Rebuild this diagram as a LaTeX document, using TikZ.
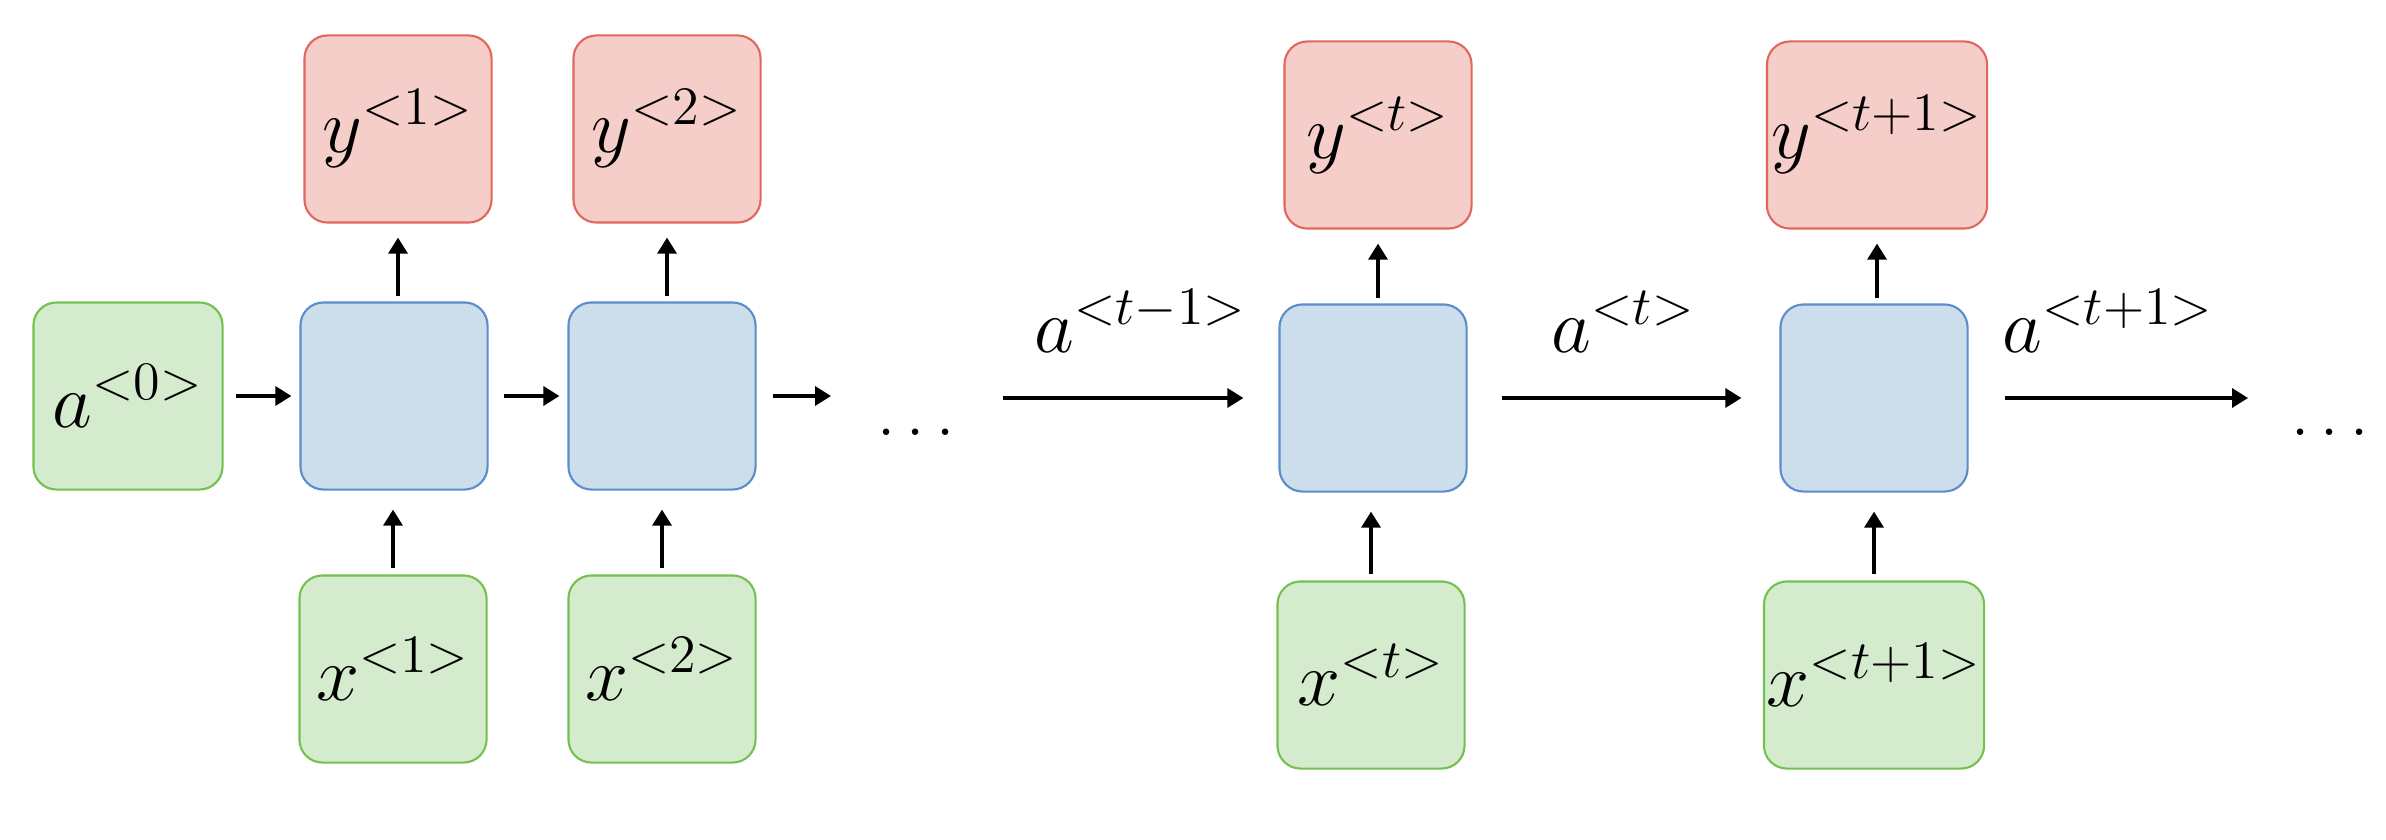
\RequirePackage{fix-cm}
\documentclass[tikz,border=0pt]{standalone}
\usetikzlibrary{arrows.meta,calc}
\definecolor{redfill}{HTML}{F5CEC9}
\definecolor{redline}{HTML}{E3665C}
\definecolor{bluefill}{HTML}{CCDDEB}
\definecolor{blueline}{HTML}{5A8DCA}
\definecolor{greenfill}{HTML}{D5EBCD}
\definecolor{greenline}{HTML}{74C050}
\begin{document}
\begin{tikzpicture}[x=0.01cm,y=-0.01cm,
  box/.style={rounded corners=0.23cm, line width=0.6pt, minimum width=1.87cm,
    minimum height=1.87cm, inner sep=0pt, font=\fontsize{22}{26}\selectfont},
  outbox/.style={box, fill=redfill, draw=redline},
  cellbox/.style={box, fill=bluefill, draw=blueline},
  inbox/.style={box, fill=greenfill, draw=greenline},
  arr/.style={line width=0.95pt, -{Triangle[length=0.16cm,width=0.19cm]}},
  lbl/.style={font=\fontsize{22}{26}\selectfont, inner sep=0pt, anchor=base},
  dotsnode/.style={font=\fontsize{19}{23}\selectfont, inner sep=0pt}]

\useasboundingbox (0,0) rectangle (2386,840);

% left group
\node[inbox, minimum width=1.89cm] (a0) at (128,396) {$a^{<0>}$};
\node[outbox] (y1) at (398,129) {$y^{<1>}$};
\node[cellbox] (b1) at (394,396) {};
\node[inbox] (x1) at (393,669) {$x^{<1>}$};
\node[outbox] (y2) at (667,129) {$y^{<2>}$};
\node[cellbox] (b2) at (662,396) {};
\node[inbox] (x2) at (662,669) {$x^{<2>}$};
\coordinate (o2) at (831,396);
\node[dotsnode] (d1) at (916,432) {$\ldots$};

% right group
\coordinate (i3) at (1003,398);
\node[outbox] (yt) at (1378,135) {$y^{<t>}$};
\node[cellbox] (bt) at (1373,398) {};
\node[inbox] (xt) at (1371,675) {$x^{<t>}$};
\node[outbox, minimum width=2.2cm] (yt1) at (1877,135) {$y^{<t+1>}$};
\node[cellbox] (bt1) at (1874,398) {};
\node[inbox, minimum width=2.2cm] (xt1) at (1874,675) {$x^{<t+1>}$};
\coordinate (o4) at (2248,398);
\node[dotsnode] (d2) at (2330,432) {$\ldots$};

% horizontal arrows
\draw[arr, shorten <=0.12cm, shorten >=0.08cm] (a0.east) -- (b1.west);
\draw[arr, shorten <=0.15cm, shorten >=0.08cm] (b1.east) -- (b2.west);
\draw[arr, shorten <=0.16cm] (b2.east) -- (o2);
\draw[arr, shorten >=0.35cm] (i3) -- node[lbl, midway, yshift=0.45cm] {$a^{<t-1>}$} (bt.west);
\draw[arr, shorten <=0.34cm, shorten >=0.38cm] (bt.east) -- node[lbl, midway, yshift=0.45cm] {$a^{<t>}$} (bt1.west);
\draw[arr, shorten <=0.36cm] (bt1.east) -- node[lbl, midway, yshift=0.45cm] {$a^{<t+1>}$} (o4);

% vertical arrows up to outputs
\draw[arr, shorten <=0.05cm, shorten >=0.14cm] (b1.north -| y1.south) -- (y1.south);
\draw[arr, shorten <=0.05cm, shorten >=0.14cm] (b2.north -| y2.south) -- (y2.south);
\draw[arr, shorten <=0.05cm, shorten >=0.14cm] (bt.north -| yt.south) -- (yt.south);
\draw[arr, shorten <=0.05cm, shorten >=0.14cm] (bt1.north -| yt1.south) -- (yt1.south);

% vertical arrows from inputs
\draw[arr, shorten <=0.06cm, shorten >=0.19cm] (x1.north) -- (x1.north |- b1.south);
\draw[arr, shorten <=0.06cm, shorten >=0.19cm] (x2.north) -- (x2.north |- b2.south);
\draw[arr, shorten <=0.06cm, shorten >=0.19cm] (xt.north) -- (xt.north |- bt.south);
\draw[arr, shorten <=0.06cm, shorten >=0.19cm] (xt1.north) -- (xt1.north |- bt1.south);
\end{tikzpicture}
\end{document}
